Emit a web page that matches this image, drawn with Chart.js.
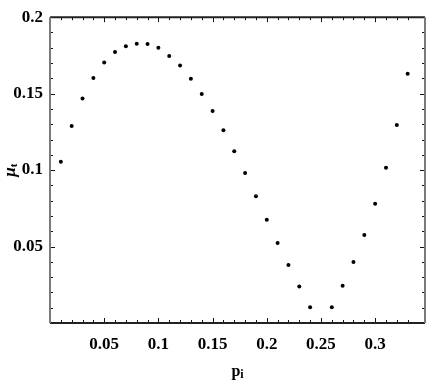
<!DOCTYPE html>
<html>
<head>
<meta charset="utf-8">
<script src="https://cdn.jsdelivr.net/npm/chart.js@4.4.1/dist/chart.umd.min.js"></script>
<style>
html,body{margin:0;padding:0;background:#fff;}
#wrap{width:436px;height:382px;}
</style>
</head>
<body>
<div id="wrap"><canvas id="c" width="436" height="382"></canvas></div>
<script>
// Data
const xValues = [0.01,0.02,0.03,0.04,0.05,0.06,0.07,0.08,0.09,0.10,0.11,0.12,0.13,0.14,0.15,0.16,0.17,0.18,0.19,0.20,0.21,0.22,0.23,0.24,0.26,0.27,0.28,0.29,0.30,0.31,0.32,0.33];
const yValues = [0.1054,0.1289,0.1468,0.1603,0.1703,0.1772,0.1810,0.1827,0.1825,0.1800,0.1747,0.1684,0.1597,0.1498,0.1387,0.1261,0.1124,0.0981,0.0829,0.0675,0.0523,0.0380,0.0238,0.0103,0.0103,0.0244,0.0399,0.0576,0.0780,0.1016,0.1295,0.1630];
const xTickLabels = ['0.05','0.1','0.15','0.2','0.25','0.3'];
const yTickLabels = ['0.05','0.1','0.15','0.2'];
const xTitleMain = 'p', xTitleSub = 'i';
const yTitleMain = 'μ', yTitleSub = 't';

const points = xValues.map((x, i) => ({x: x, y: yValues[i]}));

function majorLabel(v, labels) {
  const k = Math.round(v * 100);
  if (Math.abs(v * 100 - k) > 1e-6) return '';
  if (k > 0 && k % 5 === 0) return labels[k / 5 - 1] || '';
  return '';
}

const tickFont = {family: "'Liberation Serif', 'Times New Roman', serif", size: 17, weight: 'bold'};

const framePlugin = {
  id: 'frame',
  afterDraw(chart) {
    const ctx = chart.ctx;
    const a = chart.chartArea;
    const xs = chart.scales.x, ys = chart.scales.y;
    ctx.save();
    // inward tick marks on all four sides
    ctx.strokeStyle = '#111';
    ctx.lineWidth = 1;
    xs.ticks.forEach(t => {
      const k = t.value * 100;
      if (Math.abs(k - Math.round(k)) > 1e-6 || t.value <= 0) return;
      const px = Math.round(xs.getPixelForValue(t.value)) + 0.5;
      const len = Math.round(k) % 5 === 0 ? 5 : 3;
      ctx.beginPath();
      ctx.moveTo(px, a.bottom); ctx.lineTo(px, a.bottom - len);
      ctx.moveTo(px, a.top); ctx.lineTo(px, a.top + len);
      ctx.stroke();
    });
    ys.ticks.forEach(t => {
      const k = t.value * 100;
      if (Math.abs(k - Math.round(k)) > 1e-6 || t.value <= 0) return;
      const py = Math.round(ys.getPixelForValue(t.value)) + 0.5;
      const len = Math.round(k) % 5 === 0 ? 5 : 3;
      ctx.beginPath();
      ctx.moveTo(a.left, py); ctx.lineTo(a.left + len, py);
      ctx.moveTo(a.right, py); ctx.lineTo(a.right - len, py);
      ctx.stroke();
    });
    // frame
    ctx.lineWidth = 2;
    ctx.strokeStyle = '#222';
    ctx.beginPath();
    ctx.moveTo(a.left, a.top); ctx.lineTo(a.right, a.top);
    ctx.moveTo(a.left, a.bottom); ctx.lineTo(a.right, a.bottom);
    ctx.stroke();
    ctx.strokeStyle = '#7a7a7a';
    ctx.beginPath();
    ctx.moveTo(a.left, a.top); ctx.lineTo(a.left, a.bottom);
    ctx.moveTo(a.right, a.top); ctx.lineTo(a.right, a.bottom);
    ctx.stroke();

    // axis titles
    ctx.fillStyle = '#000';
    // x title: p with subscript i
    ctx.textBaseline = 'alphabetic';
    ctx.textAlign = 'left';
    const fMain = "bold 16px 'Liberation Serif', serif";
    const fSub = "bold 12px 'Liberation Serif', serif";
    ctx.font = fMain; const wp = ctx.measureText(xTitleMain).width;
    ctx.font = fSub; const wi = ctx.measureText(xTitleSub).width;
    const cx = (a.left + a.right) / 2;
    let sx = cx - (wp + wi) / 2;
    ctx.font = fMain; ctx.fillText(xTitleMain, sx, 376);
    ctx.font = fSub; ctx.fillText(xTitleSub, sx + wp, 378);

    // y title: mu with subscript t, rotated
    ctx.translate(14, (a.top + a.bottom) / 2);
    ctx.rotate(-Math.PI / 2);
    const gMain = "italic bold 17px 'Liberation Serif', serif";
    const gSub = "bold 11px 'Liberation Serif', serif";
    ctx.font = gMain; const wm = ctx.measureText(yTitleMain).width;
    ctx.font = gSub; const wt = ctx.measureText(yTitleSub).width;
    let sy = -(wm + wt) / 2;
    ctx.font = gMain; ctx.fillText(yTitleMain, sy, 1);
    ctx.font = gSub; ctx.fillText(yTitleSub, sy + wm, 3);
    ctx.restore();
  }
};

new Chart(document.getElementById('c'), {
  type: 'scatter',
  data: {
    datasets: [{
      data: points,
      backgroundColor: '#000',
      borderColor: '#000',
      pointRadius: 2,
      pointBorderWidth: 0,
      pointHoverRadius: 2
    }]
  },
  options: {
    responsive: false,
    animation: false,
    devicePixelRatio: 1,
    layout: {padding: {top: 8, right: 3, left: 0, bottom: 0}},
    plugins: {legend: {display: false}, tooltip: {enabled: false}},
    scales: {
      x: {
        type: 'linear',
        min: 0, max: 0.346,
        grid: {display: false, drawTicks: false},
        border: {display: false},
        afterFit(s) { s.height = 59; },
        ticks: {
          stepSize: 0.01, autoSkip: false, maxRotation: 0, minRotation: 0,
          padding: 11, color: '#000', font: tickFont,
          callback: v => majorLabel(v, xTickLabels)
        }
      },
      y: {
        type: 'linear',
        min: 0, max: 0.2,
        grid: {display: false, drawTicks: false},
        border: {display: false},
        afterFit(s) { s.width = 50; },
        ticks: {
          stepSize: 0.01, autoSkip: false,
          padding: 7, color: '#000', font: tickFont,
          callback: v => majorLabel(v, yTickLabels)
        }
      }
    }
  },
  plugins: [framePlugin]
});
</script>
</body>
</html>
